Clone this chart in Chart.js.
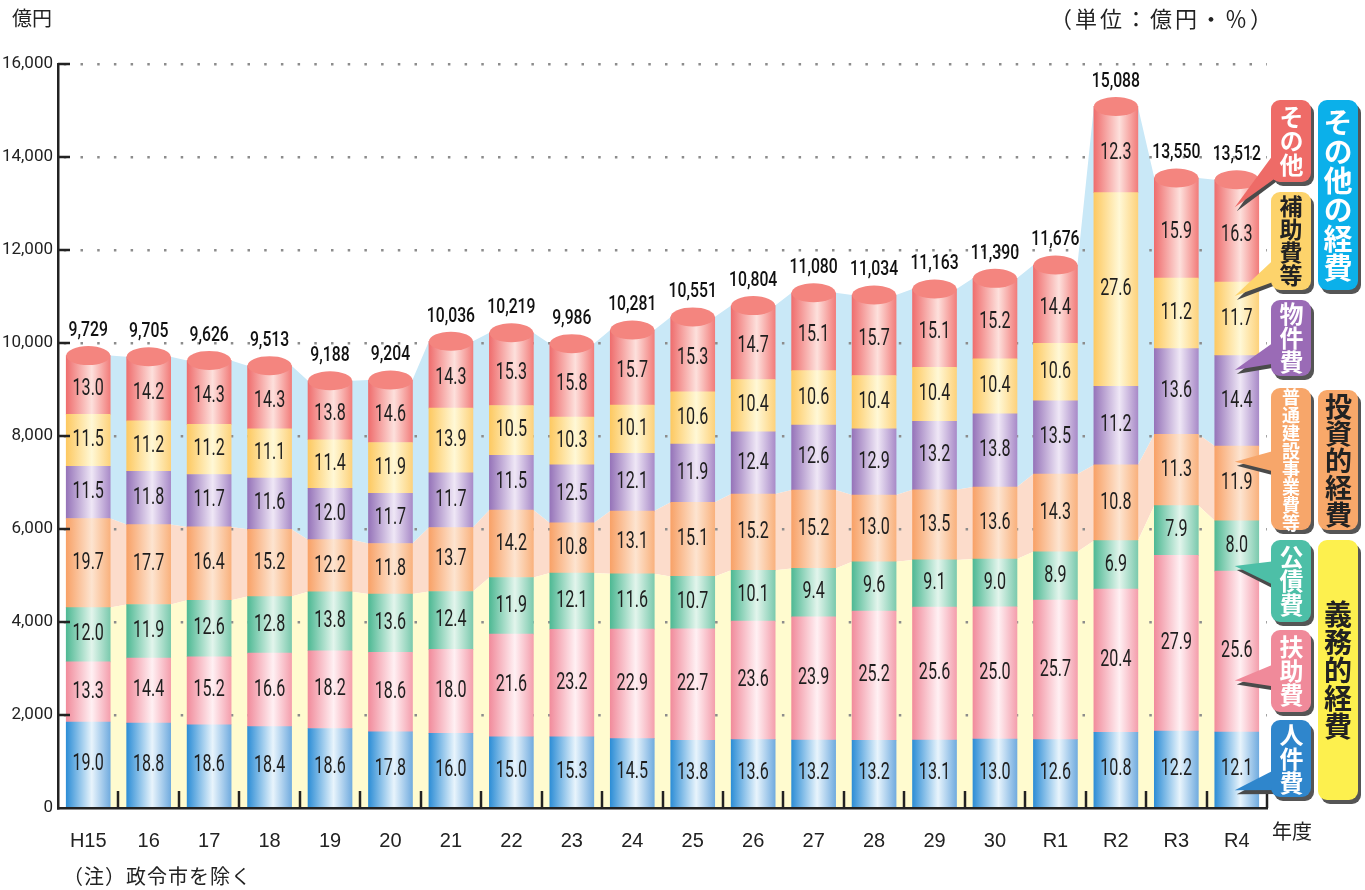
<!DOCTYPE html>
<html lang="ja">
<head>
<meta charset="utf-8">
<title>性質別歳出の推移</title>
<script src="https://cdn.jsdelivr.net/npm/chart.js@4.4.1/dist/chart.umd.min.js"></script>
<style>
  body { margin: 0; background: #fff; }
  #wrap { position: relative; width: 1365px; height: 890px; font-family: "Noto Sans CJK JP", sans-serif; color: #222; }
  #chart { position: absolute; left: 0; top: 0; }
  .note { position: absolute; font-size: 20px; line-height: 24px; white-space: nowrap; }
  .tag {
    position: absolute; width: 40px; border-radius: 9px; white-space: nowrap;
    writing-mode: vertical-rl; text-orientation: upright;
    line-height: 40px; text-align: center; font-weight: 700; color: #fff;
    box-shadow: 3px 4px 0 #555;
  }
  .tag.dark { color: #222; }
</style>
</head>
<body>
<div id="wrap">
  <canvas id="chart" width="1365" height="890"></canvas>
  <div class="note" style="left:12px;top:6px">億円</div>
  <div class="note" style="left:1050px;top:5px;font-size:22px;letter-spacing:3px">（単位：億円・％）</div>
  <div class="note" style="left:1272px;top:819px">年度</div>
  <div class="note" style="left:63px;top:864px;letter-spacing:1px">（注）政令市を除く</div>

  <div class="tag" style="left:1271px;top:100px;height:82px;background:#ee6b67;font-size:24px">その他</div>
  <div class="tag dark" style="left:1271px;top:192px;height:98px;background:#fdd36b;font-size:23px">補助費等</div>
  <div class="tag" style="left:1271px;top:300px;height:76px;background:#9a6bb6;font-size:24px">物件費</div>
  <div class="tag" style="left:1271px;top:388px;height:142px;background:#f7a66a;font-size:18px">普通建設事業費等</div>
  <div class="tag" style="left:1271px;top:540px;height:82px;background:#4dbfa7;font-size:24px">公債費</div>
  <div class="tag" style="left:1271px;top:630px;height:82px;background:#f08a9a;font-size:24px">扶助費</div>
  <div class="tag" style="left:1271px;top:720px;height:77px;background:#2f86cc;font-size:24px">人件費</div>

  <div class="tag" style="left:1318px;top:100px;height:190px;background:#0bb0ea;font-size:29px">その他の経費</div>
  <div class="tag dark" style="left:1318px;top:390px;height:140px;background:#f8a86a;font-size:27px">投資的経費</div>
  <div class="tag dark" style="left:1318px;top:540px;height:260px;background:#fdf04e;font-size:28px">義務的経費</div>
</div>
<script>
Chart.defaults.font.family = 'Roboto, sans-serif';
Chart.defaults.color = '#222';

// 年度と歳出総額（億円）
const years = ['H15', '16', '17', '18', '19', '20', '21', '22', '23', '24', '25', '26', '27', '28', '29', '30', 'R1', 'R2', 'R3', 'R4'];
const totals = [9729, 9705, 9626, 9513, 9188, 9204, 10036, 10219, 9986, 10281, 10551, 10804, 11080, 11034, 11163, 11390, 11676, 15088, 13550, 13512];

// 構成比（%）
const jinkenhi = [19.0, 18.8, 18.6, 18.4, 18.6, 17.8, 16.0, 15.0, 15.3, 14.5, 13.8, 13.6, 13.2, 13.2, 13.1, 13.0, 12.6, 10.8, 12.2, 12.1];
const fujohi = [13.3, 14.4, 15.2, 16.6, 18.2, 18.6, 18.0, 21.6, 23.2, 22.9, 22.7, 23.6, 23.9, 25.2, 25.6, 25.0, 25.7, 20.4, 27.9, 25.6];
const kosaihi = [12.0, 11.9, 12.6, 12.8, 13.8, 13.6, 12.4, 11.9, 12.1, 11.6, 10.7, 10.1, 9.4, 9.6, 9.1, 9.0, 8.9, 6.9, 7.9, 8.0];
const futsuKensetsu = [19.7, 17.7, 16.4, 15.2, 12.2, 11.8, 13.7, 14.2, 10.8, 13.1, 15.1, 15.2, 15.2, 13.0, 13.5, 13.6, 14.3, 10.8, 11.3, 11.9];
const bukkenhi = [11.5, 11.8, 11.7, 11.6, 12.0, 11.7, 11.7, 11.5, 12.5, 12.1, 11.9, 12.4, 12.6, 12.9, 13.2, 13.8, 13.5, 11.2, 13.6, 14.4];
const hojohi = [11.5, 11.2, 11.2, 11.1, 11.4, 11.9, 13.9, 10.5, 10.3, 10.1, 10.6, 10.4, 10.6, 10.4, 10.4, 10.4, 10.6, 27.6, 11.2, 11.7];
const sonota = [13.0, 14.2, 14.3, 14.3, 13.8, 14.6, 14.3, 15.3, 15.8, 15.7, 15.3, 14.7, 15.1, 15.7, 15.1, 15.2, 14.4, 12.3, 15.9, 16.3];

const BAR_FRAC = 0.727;
const BAR_PX = 44;

// 下から積み上げる順
const series = [
  { label: '人件費', pct: jinkenhi, grad: ['#2e8ed6', '#e8f4fc', '#72acdf'], tag: '#2f86cc', tip: [765, 790, 0.78] },
  { label: '扶助費', pct: fujohi, grad: ['#f18c9c', '#fff0f3', '#f49fad'], tag: '#f08a9a', tip: [660, 688, 0.68] },
  { label: '公債費', pct: kosaihi, grad: ['#4fb994', '#e2f5ec', '#7ccaae'], tag: '#4dbfa7', tip: [560, 590, 0.9] },
  { label: '普通建設事業費等', pct: futsuKensetsu, grad: ['#f8a268', '#fde4d0', '#f9b27e'], tag: '#f7a66a', tip: [448, 474, 0.21] },
  { label: '物件費', pct: bukkenhi, grad: ['#9674b9', '#efe7f6', '#a98bc8'], tag: '#9a6bb6', tip: [335, 362, 0.16] },
  { label: '補助費等', pct: hojohi, grad: ['#fdc962', '#fff8d6', '#fdd27c'], tag: '#fdd36b', tip: [250, 278, 0.19] },
  { label: 'その他', pct: sonota, grad: ['#ef6e6e', '#fde0dc', '#f27d7b'], tag: '#ee6b67', tip: [140, 172, 0.27] }
];

const amounts = series.map(s => s.pct.map((p, i) => totals[i] * p / 100));
const groupSum = idx => years.map((_, i) => idx.reduce((s, k) => s + amounts[k][i], 0));
const edgePoints = vals => vals.flatMap((v, i) => [{ x: i - BAR_FRAC / 2, y: v }, { x: i + BAR_FRAC / 2, y: v }]);

// 義務的・投資的・その他の経費の帯
const bands = [
  { label: '義務的経費', values: groupSum([0, 1, 2]), color: '#fffbcf', fill: 'origin' },
  { label: '投資的経費', values: groupSum([3]), color: '#fcdccb', fill: '-1' },
  { label: 'その他の経費', values: groupSum([4, 5, 6]), color: '#c9e8f7', fill: '-1' }
];

function barGradient(colors) {
  return ctx => {
    const chart = ctx.chart;
    if (!chart.chartArea || ctx.type !== 'data') return colors[0];
    const cx = chart.scales.x.getPixelForValue(ctx.dataIndex);
    const g = chart.ctx.createLinearGradient(cx - BAR_PX / 2, 0, cx + BAR_PX / 2, 0);
    g.addColorStop(0, colors[0]);
    g.addColorStop(0.58, colors[1]);
    g.addColorStop(1, colors[2]);
    return g;
  };
}

// 幅を詰めた文字
function narrowText(c, text, x, y, sx) {
  c.save();
  c.translate(x, y);
  c.scale(sx, 1);
  c.fillText(text, 0, 0);
  c.restore();
}

const decor = {
  id: 'decor',
  afterDatasetsDraw(chart) {
    const c = chart.ctx;
    const area = chart.chartArea;
    const ys = chart.scales.y;
    const topMeta = chart.getDatasetMeta(series.length - 1);
    c.save();

    // 円柱の天面
    topMeta.data.forEach(el => {
      c.fillStyle = '#f4857f';
      c.beginPath();
      c.ellipse(el.x, el.y, el.width / 2, 9.5, 0, 0, Math.PI * 2);
      c.fill();
    });

    // 構成比
    c.fillStyle = '#1e1e1e';
    c.textAlign = 'center';
    c.textBaseline = 'middle';
    c.font = '23px Roboto, sans-serif';
    series.forEach((s, d) => {
      chart.getDatasetMeta(d).data.forEach((el, i) => {
        let y = (el.y + el.base) / 2;
        if (d === series.length - 1) y += 4;
        narrowText(c, s.pct[i].toFixed(1), el.x, y, 0.7);
      });
    });

    // 総額
    c.fillStyle = '#111';
    c.font = '500 21px Roboto, sans-serif';
    topMeta.data.forEach((el, i) => {
      narrowText(c, totals[i].toLocaleString('en-US'), el.x, el.y - 25, 0.75);
    });

    // 内向きの目盛り
    c.strokeStyle = '#222';
    c.lineWidth = 2.5;
    ys.ticks.forEach(t => {
      if (t.value === 0) return;
      const y = ys.getPixelForValue(t.value);
      c.beginPath();
      c.moveTo(area.left, y);
      c.lineTo(area.left + 12, y);
      c.stroke();
    });
    const step = area.width / years.length;
    for (let i = 1; i <= years.length; i++) {
      const x = Math.round(area.left + step * i);
      c.beginPath();
      c.moveTo(x, area.bottom);
      c.lineTo(x, area.bottom - 17);
      c.stroke();
    }

    // 凡例の吹き出し
    const last = years.length - 1;
    series.forEach((s, d) => {
      const el = chart.getDatasetMeta(d).data[last];
      const [y1, y2, f] = s.tip;
      const tx = el.x - 2;
      const ty = el.y + f * (el.base - el.y);
      const bx = 1284;
      c.fillStyle = '#4a4a4a';
      c.beginPath();
      c.moveTo(bx, y1 + 4); c.lineTo(tx + 2, ty + 4); c.lineTo(bx, y2 + 4);
      c.closePath(); c.fill();
      c.fillStyle = s.tag;
      c.beginPath();
      c.moveTo(bx, y1); c.lineTo(tx, ty); c.lineTo(bx, y2);
      c.closePath(); c.fill();
    });
    c.restore();
  }
};

const datasets = series.map((s, d) => ({
  type: 'bar',
  label: s.label,
  data: amounts[d],
  stack: 'exp',
  grouped: false,
  order: 1,
  xAxisID: 'x',
  backgroundColor: barGradient(s.grad),
  borderWidth: 0,
  barThickness: BAR_PX
})).concat(bands.map(b => ({
  type: 'line',
  label: b.label,
  data: edgePoints(b.values),
  stack: 'band',
  order: 2,
  xAxisID: 'xl',
  backgroundColor: b.color,
  borderWidth: 0,
  pointRadius: 0,
  tension: 0,
  fill: b.fill
})));

new Chart(document.getElementById('chart'), {
  type: 'bar',
  data: { labels: years, datasets },
  options: {
    responsive: false,
    animation: false,
    events: [],
    layout: { padding: { top: 64, right: 98, left: 0, bottom: 0 } },
    plugins: {
      legend: { display: false },
      tooltip: { enabled: false },
      filler: { drawTime: 'beforeDraw' }
    },
    scales: {
      x: {
        stacked: true,
        grid: { display: false },
        border: { display: true, color: '#222', width: 2.5 },
        ticks: { font: { family: "'Liberation Sans', Arial, sans-serif", size: 20 }, padding: 13, maxRotation: 0, autoSkip: false },
        afterFit: s => { s.height = 82; }
      },
      xl: {
        type: 'linear',
        display: false,
        offset: false,
        grid: { offset: false },
        min: -0.5,
        max: years.length - 0.5
      },
      y: {
        stacked: true,
        min: 0,
        max: 16000,
        ticks: { stepSize: 2000, font: { size: 17 }, padding: 5, callback: v => v.toLocaleString('en-US') },
        grid: {
          drawTicks: false,
          lineWidth: 2.5,
          color: ctx => (ctx.tick && ctx.tick.value === 0 ? 'rgba(0,0,0,0)' : '#8c8c8c')
        },
        border: { display: true, color: '#222', width: 2.5, dash: [2.5, 14.2], dashOffset: 12.4 },
        afterFit: s => { s.width = 58; }
      }
    }
  },
  plugins: [decor]
});
</script>
</body>
</html>
